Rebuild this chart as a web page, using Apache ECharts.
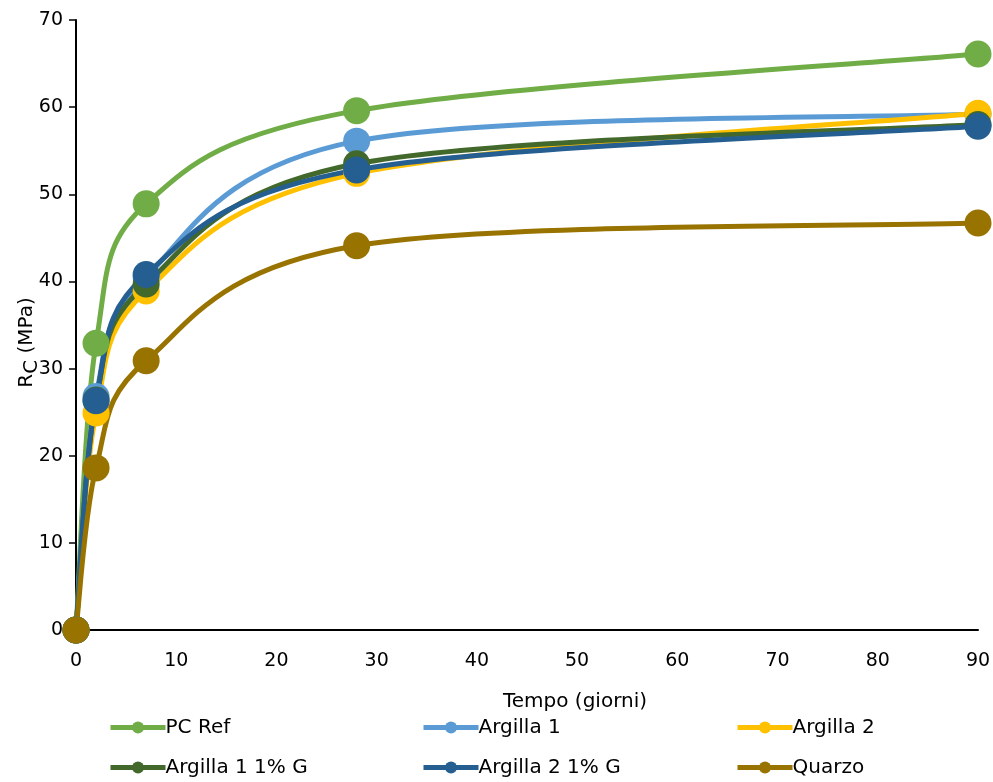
<!DOCTYPE html>
<html>
<head>
<meta charset="utf-8">
<script src="https://cdn.jsdelivr.net/npm/echarts@6/dist/echarts.min.js"></script>
<style>html,body{margin:0;padding:0;background:#fff;}#c{width:993px;height:782px;}</style>
</head>
<body>
<div id="c"></div>
<script>
var days = [0, 2, 7, 28, 90];
var seriesNames = ['PC Ref', 'Argilla 1', 'Argilla 2', 'Argilla 1 1% G', 'Argilla 2 1% G', 'Quarzo'];
var pcRef = [0, 32.9, 48.9, 59.6, 66.1];
var argilla1 = [0, 26.8, 40.5, 56.1, 59.2];
var argilla2 = [0, 24.9, 38.9, 52.4, 59.3];
var argilla1G = [0, 26.4, 39.7, 53.5, 58.0];
var argilla2G = [0, 26.3, 40.8, 52.8, 57.8];
var quarzo = [0, 18.6, 30.9, 44.1, 46.7];
var colors = ['#70AD47', '#5B9BD5', '#FFC000', '#43682B', '#255E91', '#997300'];
var yTicks = [0, 10, 20, 30, 40, 50, 60, 70];
var xTicks = [0, 10, 20, 30, 40, 50, 60, 70, 80, 90];

var values = [pcRef, argilla1, argilla2, argilla1G, argilla2G, quarzo];
var font = "'DejaVu Sans', 'Noto Sans', sans-serif";

function seriesData(i) {
  return days.map(function (d, j) { return [d, values[i][j]]; });
}

// Smoothed curve (Excel-like cubic Bezier), points placed via the axis scales
function makeRenderItem(i) {
  var data = seriesData(i);
  return function (params, api) {
    if (params.dataIndex !== 0) return null;
    var p = data.map(function (d) { return api.coord(d); });
    var n = p.length;
    var path = 'M' + p[0][0] + ' ' + p[0][1];
    for (var k = 0; k < n - 1; k++) {
      var p0 = p[k - 1] || p[k], p1 = p[k], p2 = p[k + 1], p3 = p[k + 2] || p[k + 1];
      var c1x = p1[0] + (p2[0] - p0[0]) / 6, c1y = p1[1] + (p2[1] - p0[1]) / 6;
      var c2x = p2[0] - (p3[0] - p1[0]) / 6, c2y = p2[1] - (p3[1] - p1[1]) / 6;
      path += ' C' + c1x + ' ' + c1y + ' ' + c2x + ' ' + c2y + ' ' + p2[0] + ' ' + p2[1];
    }
    return {
      type: 'path',
      shape: { pathData: path },
      style: { fill: 'none', stroke: colors[i], lineWidth: 5, lineJoin: 'round', lineCap: 'round' }
    };
  };
}

var series = [];
seriesNames.forEach(function (n, i) {
  series.push({
    name: n + ' curve',
    type: 'custom',
    z: 2,
    renderItem: makeRenderItem(i),
    data: seriesData(i),
    encode: { x: 0, y: 1 },
    silent: true,
    animation: false
  });
});
seriesNames.forEach(function (n, i) {
  series.push({
    name: n,
    type: 'line',
    z: 3,
    symbol: 'circle',
    symbolSize: 27,
    data: seriesData(i),
    lineStyle: { width: 0, opacity: 0, color: colors[i] },
    itemStyle: { color: colors[i] },
    emphasis: { disabled: true },
    animation: false
  });
});

function legend(items, left) {
  return {
    orient: 'vertical',
    left: left,
    top: 717,
    padding: 0,
    data: items.map(function (n) {
      var c = colors[seriesNames.indexOf(n)];
      return { name: n, lineStyle: { width: 5, opacity: 1, color: c }, itemStyle: { color: c } };
    }),
    itemWidth: 55,
    itemHeight: 15,
    itemGap: 19,
    selectedMode: false,
    textStyle: { fontSize: 20, fontFamily: font, color: '#000', padding: [0, 0, 0, -5], lineHeight: 21 }
  };
}

var chart = echarts.init(document.getElementById('c'));
chart.setOption({
  backgroundColor: '#fff',
  animation: false,
  grid: { left: 76, right: 15, top: 20, bottom: 152, containLabel: false, outerBoundsMode: 'none' },
  xAxis: {
    type: 'value',
    min: xTicks[0], max: xTicks[xTicks.length - 1], interval: 10,
    splitLine: { show: false },
    axisLine: { lineStyle: { color: '#000', width: 2 } },
    axisTick: { show: false },
    axisLabel: { fontSize: 19, fontFamily: font, color: '#000', margin: 22 },
    name: 'Tempo (giorni)',
    nameLocation: 'middle',
    nameGap: 62,
    nameMoveOverlap: false,
    nameTextStyle: { fontSize: 20, fontFamily: font, color: '#000', padding: [0, 0, 0, 96] }
  },
  yAxis: {
    type: 'value',
    min: yTicks[0], max: yTicks[yTicks.length - 1], interval: 10,
    splitLine: { show: false },
    axisLine: { show: true, lineStyle: { color: '#000', width: 2 } },
    axisTick: { show: true, length: 7, lineStyle: { color: '#000', width: 1.5 } },
    axisLabel: { fontSize: 19, fontFamily: font, color: '#000', margin: 13 },
    name: '{r|R}{s|C} (MPa)',
    nameLocation: 'middle',
    nameGap: 34,
    nameRotate: 90,
    nameMoveOverlap: false,
    nameTextStyle: {
      fontSize: 20, fontFamily: font, color: '#000', padding: [0, 35, 0, 0],
      rich: {
        r: { fontSize: 20, fontFamily: font, color: '#000' },
        s: { fontSize: 20, fontFamily: font, color: '#000', padding: [10, 0, 0, 0] }
      }
    }
  },
  legend: [
    legend(['PC Ref', 'Argilla 1 1% G'], 108),
    legend(['Argilla 1', 'Argilla 2 1% G'], 421),
    legend(['Argilla 2', 'Quarzo'], 735)
  ],
  series: series
});
</script>
</body>
</html>
